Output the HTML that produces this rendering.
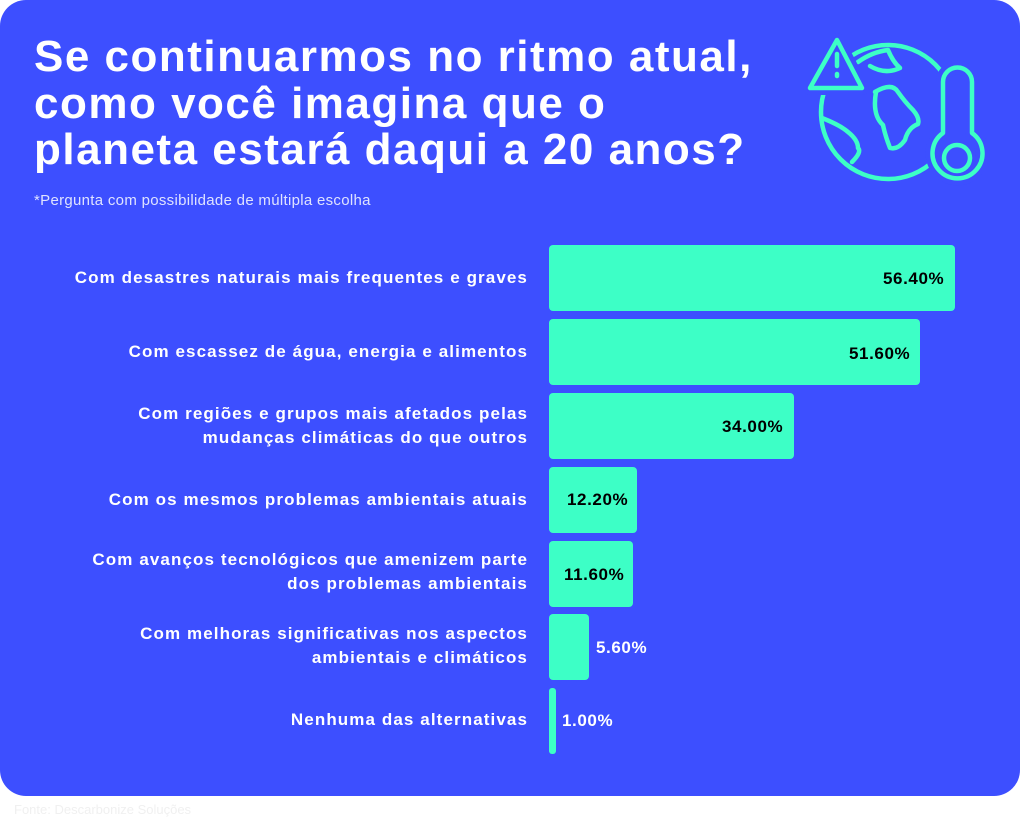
<!DOCTYPE html>
<html><head><meta charset="utf-8"><style>
body{margin:0;width:1024px;height:819px;background:#fff;position:relative;overflow:hidden;font-family:"Liberation Sans",sans-serif}
.card{position:absolute;left:0;top:0;width:1020px;height:796px;background:#3d4fff;border-radius:26px}
.t{position:absolute;left:34px;color:#fff;font-weight:bold;font-size:44px;letter-spacing:1.5px;white-space:nowrap}
.sub{position:absolute;left:34px;top:192px;color:#dfe3ff;font-size:15px;letter-spacing:0.3px}
.lab{position:absolute;right:496px;color:#fff;font-weight:bold;font-size:17px;text-align:right;line-height:24px;letter-spacing:1.1px;white-space:nowrap}
.bar{position:absolute;left:549px;height:66px;background:#3dffc6;border-radius:4px}
.v{position:absolute;font-weight:bold;font-size:17px;line-height:20px;letter-spacing:0.6px}
.src{position:absolute;left:14px;top:802px;color:#f0f0f0;font-size:13px}
</style></head><body>
<div class="card"></div>
<div class="t" style="top:32px">Se continuarmos no ritmo atual,</div>
<div class="t" style="top:79px">como você imagina que o</div>
<div class="t" style="top:125px">planeta estará daqui a 20 anos?</div>
<div class="sub">*Pergunta com possibilidade de múltipla escolha</div>
<svg style="position:absolute;left:0;top:0" width="1024" height="200" fill="none" stroke="#3dffc6" stroke-width="4.5" stroke-linecap="round" stroke-linejoin="round">
<circle cx="888" cy="112" r="67"/>
<path d="M875 92 Q892 82 898 92 Q905 102 913 110 Q920 118 918 124 Q908 128 905 140 Q898 150 890 148 Q885 135 883 125 Q872 115 876 92Z"/>
<path d="M858 62 Q872 52 888 50 Q893 62 900 68 Q885 75 870 66"/>
<path d="M822 118 Q840 125 848 132 Q858 140 858 148 Q862 152 852 162"/>
<g stroke="#3d4fff" stroke-width="14" fill="#3d4fff">
<path d="M837 40 L810 88 L862 88 Z"/>
<path d="M943 133 V82 A14.5 14.5 0 0 1 972 82 V133 A25 25 0 1 1 943 133Z"/>
</g>
<path d="M837 40 L810 88 L862 88 Z"/><path d="M837 54 V66 M837 74 V76"/>
<path d="M943 133 V82 A14.5 14.5 0 0 1 972 82 V133 A25 25 0 1 1 943 133Z"/>
<circle cx="957" cy="158" r="13"/>
</svg>
<div class="lab" style="top:266px">Com desastres naturais mais frequentes e graves</div>
<div class="lab" style="top:340px">Com escassez de água, energia e alimentos</div>
<div class="lab" style="top:402px">Com regiões e grupos mais afetados pelas<br>mudanças climáticas do que outros</div>
<div class="lab" style="top:488px">Com os mesmos problemas ambientais atuais</div>
<div class="lab" style="top:548px">Com avanços tecnológicos que amenizem parte<br>dos problemas ambientais</div>
<div class="lab" style="top:622px">Com melhoras significativas nos aspectos<br>ambientais e climáticos</div>
<div class="lab" style="top:708px">Nenhuma das alternativas</div>
<div class="bar" style="top:245px;width:406px"></div>
<div class="bar" style="top:319px;width:371px"></div>
<div class="bar" style="top:393px;width:245px"></div>
<div class="bar" style="top:467px;width:88px"></div>
<div class="bar" style="top:541px;width:84px"></div>
<div class="bar" style="top:614px;width:40px"></div>
<div class="bar" style="top:688px;width:7px;border-radius:3px"></div>
<div class="v" style="top:269px;left:883px">56.40%</div>
<div class="v" style="top:344px;left:849px">51.60%</div>
<div class="v" style="top:417px;left:722px">34.00%</div>
<div class="v" style="top:490px;left:567px">12.20%</div>
<div class="v" style="top:565px;left:564px">11.60%</div>
<div class="v" style="top:638px;left:596px;color:#fff">5.60%</div>
<div class="v" style="top:711px;left:562px;color:#fff">1.00%</div>
<div class="src">Fonte: Descarbonize Soluções</div>
</body></html>
